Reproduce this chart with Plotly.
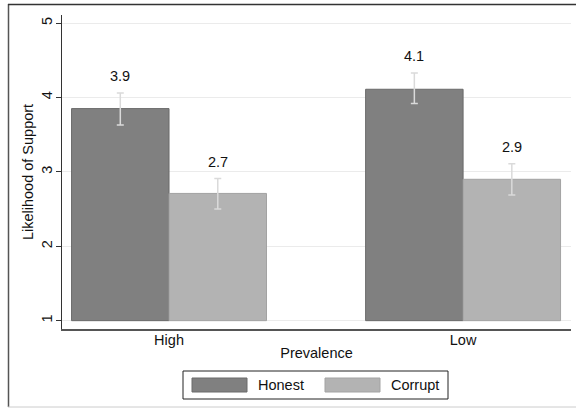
import plotly.graph_objects as go

categories = ["High", "Low"]
honest = [3.85, 4.11]
corrupt = [2.71, 2.90]
honest_lo = [3.63, 3.92]
honest_hi = [4.06, 4.33]
corrupt_lo = [2.50, 2.69]
corrupt_hi = [2.91, 3.11]
honest_lbl = ["3.9", "4.1"]
corrupt_lbl = ["2.7", "2.9"]
yticks = [1, 2, 3, 4, 5]

W, H = 576, 408
L, R, T, B = 62, 5, 15, 79
FONT = "Liberation Sans, Arial, Helvetica, sans-serif"
FS = 14.5


def px(x):
    return (x - L) / (W - L - R)


def py(y):
    return (H - B - y) / (H - T - B)


fig = go.Figure()
base = 1
for name, vals, lo, hi, fill, edge in [
    ("Honest", honest, honest_lo, honest_hi, "#808080", "#6a6a6a"),
    ("Corrupt", corrupt, corrupt_lo, corrupt_hi, "#b3b3b3", "#a3a3a3"),
]:
    fig.add_trace(go.Bar(
        name=name, x=categories, y=[v - base for v in vals], base=base,
        marker=dict(color=fill, line=dict(color=edge, width=1)),
        error_y=dict(type="data", symmetric=False,
                     array=[h - v for h, v in zip(hi, vals)],
                     arrayminus=[v - l for l, v in zip(lo, vals)],
                     color="#dadada", thickness=1.5, width=3.5),
        showlegend=False,
    ))

ann = []
for i, c in enumerate(categories):
    ann.append(dict(x=c, y=honest_hi[i], xref="x", yref="y", text=honest_lbl[i],
                    showarrow=False, yshift=17, xshift=-49,
                    font=dict(size=FS, color="#111")))
    ann.append(dict(x=c, y=corrupt_hi[i], xref="x", yref="y", text=corrupt_lbl[i],
                    showarrow=False, yshift=17, xshift=49,
                    font=dict(size=FS, color="#111")))

# custom legend
shapes = [
    dict(type="rect", xref="paper", yref="paper", x0=px(183), x1=px(448), y0=py(399), y1=py(371),
         line=dict(color="#222", width=1), fillcolor="white", layer="below"),
    dict(type="rect", xref="paper", yref="paper", x0=px(192), x1=px(247), y0=py(392), y1=py(378),
         line=dict(color="#6a6a6a", width=1), fillcolor="#808080"),
    dict(type="rect", xref="paper", yref="paper", x0=px(325), x1=px(380), y0=py(392), y1=py(378),
         line=dict(color="#a3a3a3", width=1), fillcolor="#b3b3b3"),
    # outer frame
    dict(type="line", xref="paper", yref="paper", x0=px(8.5), x1=px(8.5), y0=py(4), y1=py(407),
         line=dict(color="#555", width=1.5)),
    dict(type="line", xref="paper", yref="paper", x0=px(8), x1=px(580), y0=py(4.5), y1=py(4.5),
         line=dict(color="#333", width=1.5)),
    dict(type="line", xref="paper", yref="paper", x0=px(8), x1=px(580), y0=py(407), y1=py(407),
         line=dict(color="#ccc", width=1)),
]
ann += [
    dict(xref="paper", yref="paper", x=px(256), y=py(385), text="Honest", showarrow=False,
         xanchor="left", yanchor="middle", font=dict(size=FS, color="#111")),
    dict(xref="paper", yref="paper", x=px(389), y=py(385), text="Corrupt", showarrow=False,
         xanchor="left", yanchor="middle", font=dict(size=FS, color="#111")),
]

fig.update_layout(
    width=W, height=H,
    margin=dict(l=L, r=R, t=T, b=B),
    paper_bgcolor="white", plot_bgcolor="white",
    barmode="group", bargap=0.337, bargroupgap=0,
    font=dict(family=FONT, size=FS, color="#111"),
    annotations=ann, shapes=shapes,
    xaxis=dict(range=[-0.364, 1.367], showgrid=False, showline=True, linecolor="#555",
               linewidth=2, ticks="", tickfont=dict(size=FS), ticklabelstandoff=-3,
               title=dict(text="Prevalence", font=dict(size=FS), standoff=0)),
    yaxis=dict(range=[0.888, 5.108], tickvals=yticks, showgrid=True, gridcolor="#ebebeb",
               gridwidth=1, zeroline=False, showline=True, linecolor="#333", linewidth=1,
               ticks="outside", ticklen=5, tickcolor="#333", tickangle=-90,
               tickfont=dict(size=FS), ticklabelstandoff=-2,
               title=dict(text="Likelihood of Support", font=dict(size=FS), standoff=2)),
)

fig.write_html("out.html", config={"displayModeBar": False},
               post_script="document.body.style.margin='0';document.body.style.overflow='hidden';")
